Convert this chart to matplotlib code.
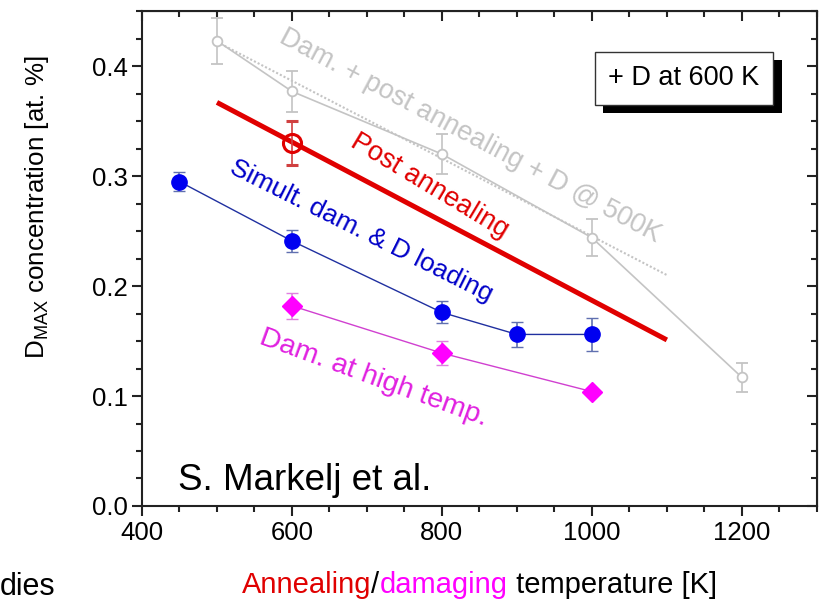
import matplotlib
matplotlib.use("Agg")
import matplotlib.pyplot as plt
from matplotlib.ticker import MultipleLocator
from matplotlib.offsetbox import TextArea, HPacker, AnchoredOffsetbox
import matplotlib.patheffects as pe

plt.rcParams['font.family'] = ['Liberation Sans', 'DejaVu Sans']
plt.rcParams['mathtext.fontset'] = 'custom'
plt.rcParams['mathtext.rm'] = 'Liberation Sans'

# データ
gray_T = [500, 600, 800, 1000, 1200]
gray_D = [0.423, 0.377, 0.320, 0.244, 0.117]
gray_err = [0.021, 0.019, 0.018, 0.017, 0.013]

gray_fit_T = [500, 1100]
gray_fit_D = [0.422, 0.210]

red_line_T = [500, 1100]
red_line_D = [0.367, 0.151]
red_pt_T = [600]
red_pt_D = [0.330]
red_pt_err = [0.020]

blue_T = [450, 600, 800, 900, 1000]
blue_D = [0.295, 0.241, 0.176, 0.156, 0.156]
blue_err = [0.009, 0.010, 0.010, 0.011, 0.015]

mag_T = [600, 800, 1000]
mag_D = [0.182, 0.139, 0.104]
mag_err = [0.012, 0.011, 0.0]

GRAY = '#c4c4c4'
RED = '#e00000'
BLUE = '#0000f0'
MAG = '#ff00ff'

fig = plt.figure(figsize=(8.25, 6.02), dpi=100)
ax = fig.add_axes([0.1721, 0.1595, 0.818, 0.822])

# 灰色系列
ax.plot(gray_fit_T, gray_fit_D, color=GRAY, lw=1.5, ls=(0, (1, 1)))
ax.errorbar(gray_T, gray_D, yerr=gray_err, color=GRAY, lw=1.2, marker='o', ms=7,
            mfc='white', mec=GRAY, mew=1.3, capsize=4, ecolor=GRAY, elinewidth=1.2)

# 赤（ポストアニーリング）
ax.plot(red_line_T, red_line_D, color=RED, lw=3.6, solid_capstyle='butt')
ax.errorbar(red_pt_T, red_pt_D, yerr=red_pt_err, color=RED, ls='none', marker='o', ms=13,
            mfc='none', mec=RED, mew=2.2, capsize=4, ecolor='#d04040', elinewidth=1.2, zorder=4)

# 青（同時損傷 & D 導入）
ax.plot(blue_T, blue_D, color='#2030a0', lw=1.0, zorder=3)
ax.errorbar(blue_T, blue_D, yerr=blue_err, ls='none', marker='o', ms=11,
            mfc=BLUE, mec=BLUE, capsize=4, ecolor='#6070b0', elinewidth=1.2, zorder=4)

# マゼンタ（高温損傷）
ax.plot(mag_T, mag_D, color='#d040d0', lw=1.0, zorder=3)
ax.errorbar(mag_T, mag_D, yerr=mag_err, ls='none', marker='D', ms=10,
            mfc=MAG, mec=MAG, capsize=4, ecolor='#e080e0', elinewidth=1.2, zorder=4)

ax.set_xlim(400, 1300)
ax.set_ylim(0, 0.45)
ax.xaxis.set_major_locator(MultipleLocator(200))
ax.xaxis.set_minor_locator(MultipleLocator(50))
ax.yaxis.set_minor_locator(MultipleLocator(0.025))
ax.set_xticks([400, 600, 800, 1000, 1200])
ax.set_yticks([0.0, 0.1, 0.2, 0.3, 0.4])
ax.set_yticklabels(['0.0', '0.1', '0.2', '0.3', '0.4'])
ax.tick_params(which='both', direction='out', labelsize=18.5, width=1.5, color='#222222')
ax.tick_params(which='major', length=7.5, pad=3)
ax.tick_params(which='minor', length=4.5)
for s in ax.spines.values():
    s.set_linewidth(1.5)
    s.set_color('#222222')

# 上・右の目盛り（内向き）
axt = ax.secondary_xaxis('top')
axt.xaxis.set_major_locator(MultipleLocator(200))
axt.xaxis.set_minor_locator(MultipleLocator(50))
axt.tick_params(which='both', direction='in', labeltop=False, width=1.5, color='#222222')
axt.tick_params(which='major', length=7.5)
axt.tick_params(which='minor', length=4.5)
axr = ax.secondary_yaxis('right')
axr.yaxis.set_major_locator(MultipleLocator(0.1))
axr.yaxis.set_minor_locator(MultipleLocator(0.025))
axr.tick_params(which='both', direction='in', labelright=False, width=1.5, color='#222222')
axr.tick_params(which='major', length=7.5)
axr.tick_params(which='minor', length=4.5)

ax.set_ylabel('D$_{\\mathrm{MAX}}$ concentration [at. %]', fontsize=18.7)
ax.yaxis.set_label_coords(-0.135, 0.604)

# 図中の注釈
ax.text(837, 0.336, 'Dam. + post annealing + D @ 500K', color=GRAY, fontsize=19.5,
        rotation=-28, ha='center', va='center', rotation_mode='anchor')
ax.text(783, 0.291, 'Post annealing', color=RED, fontsize=19.5,
        rotation=-31, ha='center', va='center', rotation_mode='anchor')
ax.text(693, 0.250, 'Simult. dam. & D loading', color='#0000c8', fontsize=19,
        rotation=-26.5, ha='center', va='center', rotation_mode='anchor')
ax.text(709, 0.1166, 'Dam. at high temp.', color='#e020e0', fontsize=20.5,
        rotation=-20, ha='center', va='center', rotation_mode='anchor')
ax.text(448, 0.0145, 'S. Markelj et al.', color='black', fontsize=26.5,
        ha='left', va='baseline')

ax.text(1123, 0.389, '+ D at 600 K', fontsize=19.5, ha='center', va='center',
        bbox=dict(boxstyle='square,pad=0.5', fc='white', ec='#333333', lw=1.0,
                  path_effects=[pe.withSimplePatchShadow(offset=(6, -6), shadow_rgbFace='black', alpha=1)]))

# 多色の x 軸ラベル
parts = [('Annealing', RED), ('/', 'black'), ('damaging', MAG), (' temperature [K]', 'black')]
boxes = [TextArea(t, textprops=dict(color=c, fontsize=21)) for t, c in parts]
pack = HPacker(children=boxes, align='baseline', pad=0, sep=0)
anch = AnchoredOffsetbox(loc='center', child=pack, frameon=False,
                         bbox_to_anchor=(0.581, 0.028), bbox_transform=fig.transFigure, pad=0)
fig.add_artist(anch)

fig.text(0.0, 0.0, 'dies', fontsize=22, ha='left', va='bottom')

plt.savefig('out.png', dpi=100)
